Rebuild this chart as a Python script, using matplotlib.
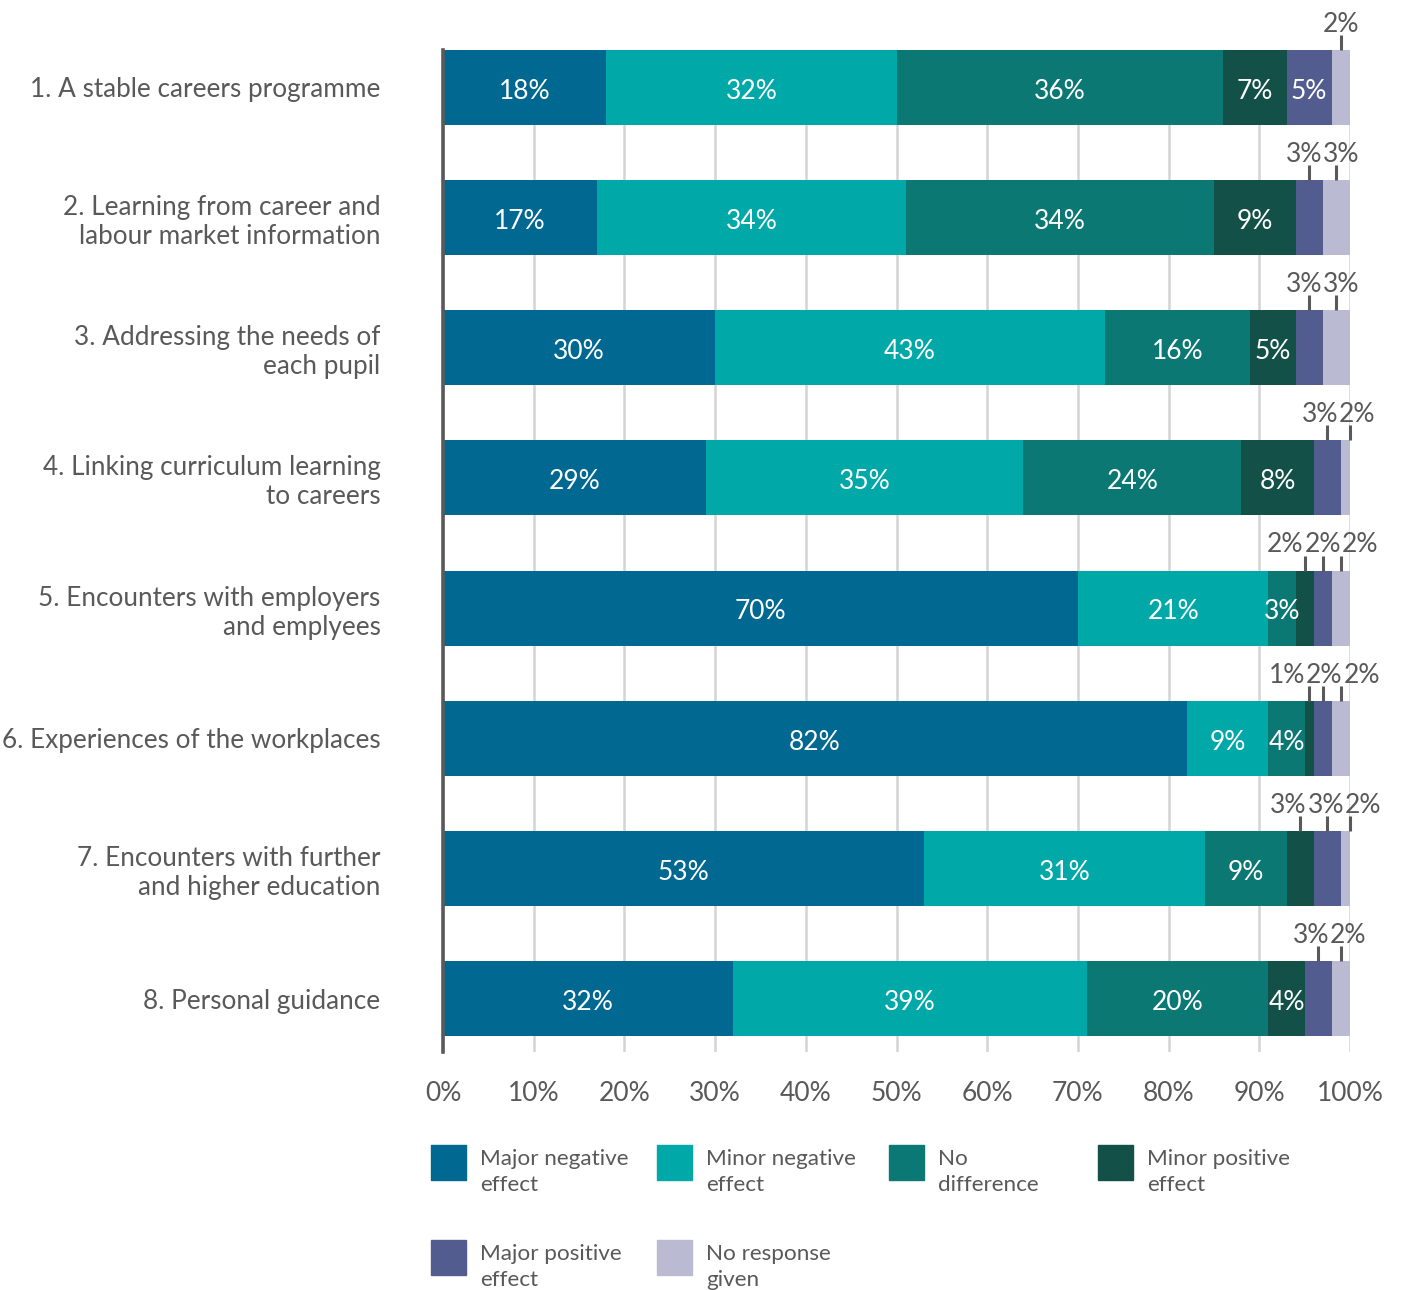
import matplotlib.pyplot as plt
from matplotlib.patches import Rectangle

plt.rcParams['font.family'] = ['Lato', 'DejaVu Sans']

categories = [
    "1. A stable careers programme",
    "2. Learning from career and\nlabour market information",
    "3. Addressing the needs of\neach pupil",
    "4. Linking curriculum learning\nto careers",
    "5. Encounters with employers\nand emplyees",
    "6. Experiences of the workplaces",
    "7. Encounters with further\nand higher education",
    "8. Personal guidance",
]
series_names = [
    "Major negative\neffect",
    "Minor negative\neffect",
    "No\ndifference",
    "Minor positive\neffect",
    "Major positive\neffect",
    "No response\ngiven",
]
major_negative = [18, 17, 30, 29, 70, 82, 53, 32]
minor_negative = [32, 34, 43, 35, 21, 9, 31, 39]
no_difference = [36, 34, 16, 24, 3, 4, 9, 20]
minor_positive = [7, 9, 5, 8, 2, 1, 3, 4]
major_positive = [5, 3, 3, 3, 2, 2, 3, 3]
no_response = [2, 3, 3, 2, 2, 2, 2, 2]
# segments whose labels sit above the bar (series index per category)
labels_above = [[5], [4, 5], [4, 5], [4, 5], [3, 4, 5], [3, 4, 5], [3, 4, 5], [4, 5]]

colors = ["#006891", "#00a8a8", "#0b7873", "#135047", "#525c8f", "#babad3"]
text_grey = "#595959"

W, H = 1406, 1290
fig = plt.figure(figsize=(W / 100, H / 100), dpi=100)
ax = fig.add_axes([443 / W, 1 - 1052 / H, 907 / W, 1002 / H])

values = [major_negative, minor_negative, no_difference,
          minor_positive, major_positive, no_response]
ypos = list(range(len(categories)))
bar_h = 0.576

left = [0] * len(categories)
for j, vals in enumerate(values):
    ax.barh(ypos, vals, left=left, height=bar_h, color=colors[j],
            label=series_names[j], zorder=2)
    for i, v in enumerate(vals):
        if j not in labels_above[i]:
            ax.text(left[i] + v / 2, i + 0.03, f"{v}%", ha="center", va="center",
                    color="white", fontsize=19, zorder=3)
    left = [l + v for l, v in zip(left, vals)]


def spread(xs, gap):
    pos = list(xs)
    for _ in range(60):
        for k in range(1, len(pos)):
            d = pos[k] - pos[k - 1]
            if d < gap:
                s = (gap - d) / 2
                pos[k - 1] -= s
                pos[k] += s
    return pos


# small segments: leader line up from the bar, label above it
for i in ypos:
    centers, texts = [], []
    start = 0
    for j, vals in enumerate(values):
        v = vals[i]
        if j in labels_above[i]:
            centers.append(start + v / 2)
            texts.append(f"{v}%")
        start += v
    top = i - bar_h / 2
    for cx, lx, t in zip(centers, spread(centers, 4.15), texts):
        ax.plot([cx, cx], [top, top - 0.115], color=text_grey, lw=2.2,
                solid_capstyle="butt", clip_on=False, zorder=3)
        ax.text(lx, top - 0.14, t, ha="center", va="baseline",
                color=text_grey, fontsize=19)

ax.set_xlim(0, 100)
ax.set_ylim(7 + bar_h / 2 + 16 / 130.1, -bar_h / 2)
ax.set_yticks(ypos)
ax.set_yticklabels(categories, fontsize=18.8)
ax.set_xticks(range(0, 101, 10))
ax.set_xticklabels([f"{t}%" for t in range(0, 101, 10)], fontsize=19)
ax.tick_params(axis="both", length=0, labelcolor=text_grey)
ax.tick_params(axis="y", pad=45)
ax.tick_params(axis="x", pad=21)
ax.grid(axis="x", color="#d4d4d4", lw=1.8, zorder=0)
ax.set_axisbelow(True)
for side in ["top", "right", "bottom"]:
    ax.spines[side].set_visible(False)
ax.spines["left"].set_color("#5a5a5a")
ax.spines["left"].set_linewidth(2.6)
ax.spines["left"].set_zorder(4)

# legend laid out in two rows under the axis
legend_x = [431, 657, 889, 1098, 431, 657]
legend_y = [1145, 1145, 1145, 1145, 1240, 1240]
for name, c, lx, ly in zip(series_names, colors, legend_x, legend_y):
    fig.add_artist(Rectangle((lx / W, 1 - (ly + 35) / H), 35 / W, 35 / H,
                             transform=fig.transFigure, color=c))
    fig.text((lx + 49) / W, 1 - (ly + 4) / H, name, ha="left", va="top",
             fontsize=16.2, color=text_grey, linespacing=1.4)

fig.savefig("out.png", dpi=100)
